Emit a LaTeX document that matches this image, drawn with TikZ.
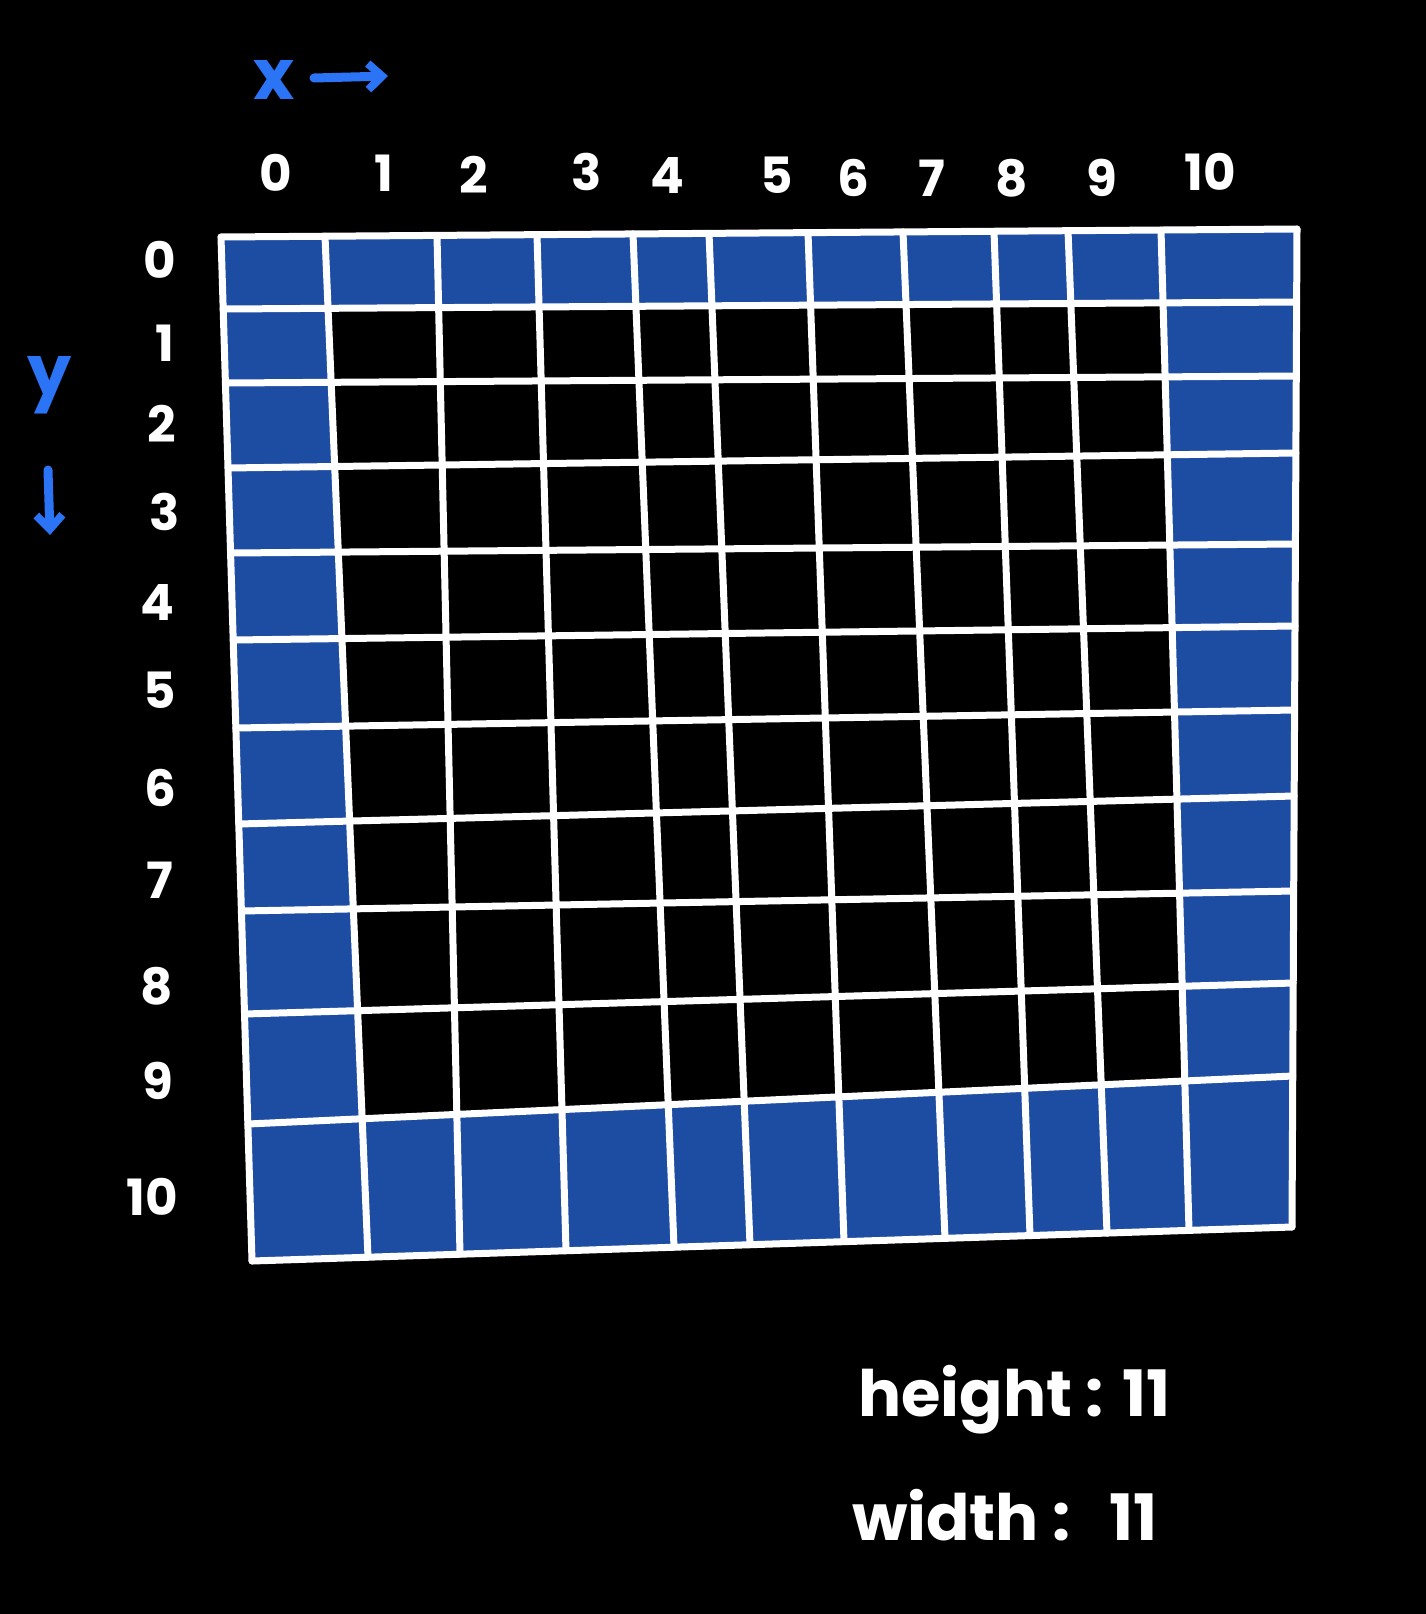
\documentclass[tikz,border=0pt]{standalone}
\usepackage{fontspec}
\setmainfont{Poppins}
\usetikzlibrary{arrows.meta}
\definecolor{gridblue}{HTML}{1D4CA3}
\definecolor{penblue}{HTML}{2B74F5}
\tikzset{
  gline/.style={white, line width=7pt, line cap=round},
  numlbl/.style={white, font=\bfseries\fontsize{50}{56}\selectfont, inner sep=0pt},
  axlbl/.style={penblue, font=\bfseries\fontsize{70}{76}\selectfont, inner sep=0pt},
  axarrow/.style={penblue, line width=9pt, line cap=round, -{Straight Barb[length=14pt,width=26pt,line width=8pt]}},
  infolbl/.style={white, font=\bfseries\fontsize{64}{70}\selectfont, inner sep=0pt, anchor=west}
}
\begin{document}
\begin{tikzpicture}[x=1pt,y=-1pt]
\fill[black] (0,0) rectangle (1426,1614);
\useasboundingbox (0,0) rectangle (1426,1614);
% vertical lines
\foreach \tx/\bx [count=\i from 0] in {221/252,325/368,437/460,537/566,633/674,709/750,808/844,903/945,994/1030,1068/1107,1161/1189,1297/1292}{
  \coordinate (v\i t) at ({\tx},{237-0.007435*(\tx-221)});
  \coordinate (v\i b) at ({\bx},{1261-0.032692*(\bx-252)});
}
% horizontal lines
\foreach \ly/\ry [count=\j from 0] in {237/229,309/302,383/376,468/453,553/544,640/626,728/710,824/796,911/891,1014/983,1124/1076,1261/1227}{
  \coordinate (h\j l) at ({221+0.030273*(\ly-237)},{\ly});
  \coordinate (h\j r) at ({1297-0.00501*(\ry-229)},{\ry});
}
\coordinate (in1) at (intersection of v1t--v1b and h1l--h1r);
\coordinate (in2) at (intersection of v10t--v10b and h1l--h1r);
\coordinate (in3) at (intersection of v10t--v10b and h10l--h10r);
\coordinate (in4) at (intersection of v1t--v1b and h10l--h10r);
\fill[gridblue, even odd rule] (v0t) -- (v11t) -- (v11b) -- (v0b) -- cycle
  (in1) -- (in2) -- (in3) -- (in4) -- cycle;
\foreach \i in {0,...,11}{
  \draw[gline] (v\i t) -- (v\i b);
  \draw[gline] (h\i l) -- (h\i r);
}
% column labels
\foreach \n/\x/\y in {0/276/173,1/384/173,2/474/175,3/587/172,4/667/175,5/777/175,6/853/178,7/932/178,8/1012/178,9/1102/178,10/1210/172}{
  \node[numlbl] (cx\n) at (\x,\y) {\n};
}
% row labels
\foreach \n/\x/\y in {0/160/260,1/165/343,2/162/424,3/165/512,4/157/602,5/160/690,6/160/788,7/160/880,8/157/986,9/158/1081,10/152/1197}{
  \node[numlbl] (ry\n) at (\x,\y) {\n};
}
% axis labels
\node[axlbl] (xlab) at (274,80) {x};
\coordinate (xa1) at (314,78);
\coordinate (xa2) at (388,76);
\draw[axarrow] (xa1) -- (xa2);
\node[axlbl] (ylab) at (50,385) {y};
\coordinate (ya1) at (48,470);
\coordinate (ya2) at (50,535);
\draw[axarrow] (ya1) -- (ya2);
% info
\node[infolbl] (hinfo) at (858,1400) {height : 11};
\node[infolbl] (winfo) at (852,1515) {width :\hspace{0.6em}11};
\end{tikzpicture}
\end{document}
